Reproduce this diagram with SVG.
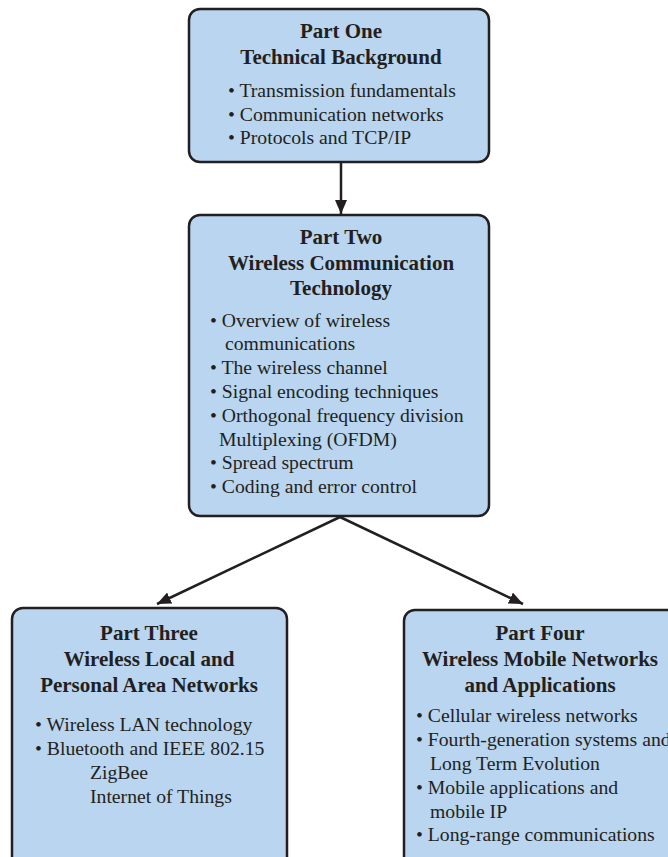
<svg xmlns="http://www.w3.org/2000/svg" width="668" height="857" viewBox="0 0 668 857">
  <defs>
    <marker id="arrow" viewBox="0 0 14 12" refX="14" refY="6" markerWidth="14" markerHeight="12" markerUnits="userSpaceOnUse" orient="auto">
      <path d="M0,0 L14,6 L0,12 Z" fill="#231f20"/>
    </marker>
  </defs>
  <style>
    .box { fill: #b9d5ef; stroke: #231f20; stroke-width: 2.5; }
    .title { font-family: "Liberation Serif", "Times New Roman", serif; font-weight: bold; font-size: 21px; fill: #231f20; text-anchor: middle; }
    .item { font-family: "Liberation Serif", "Times New Roman", serif; font-size: 19.7px; fill: #231f20; }
    .conn { stroke: #231f20; stroke-width: 2.5; fill: none; marker-end: url(#arrow); }
  </style>
  <rect width="668" height="857" fill="#ffffff"/>

  <g id="connectors">
    <line class="conn" x1="341" y1="162" x2="341" y2="214"/>
    <line class="conn" x1="340" y1="517" x2="157" y2="604"/>
    <line class="conn" x1="340" y1="517" x2="523" y2="604"/>
  </g>

  <g id="part-one">
    <rect class="box" x="189" y="9" width="300" height="153" rx="11"/>
    <text class="title" x="341" y="38">Part One</text>
    <text class="title" x="341" y="64">Technical Background</text>
    <text class="item" x="228" y="97">• Transmission fundamentals</text>
    <text class="item" x="228" y="121">• Communication networks</text>
    <text class="item" x="228" y="144">• Protocols and TCP/IP</text>
  </g>

  <g id="part-two">
    <rect class="box" x="189" y="215" width="300" height="301" rx="11"/>
    <text class="title" x="341" y="244">Part Two</text>
    <text class="title" x="341" y="270">Wireless Communication</text>
    <text class="title" x="341" y="295">Technology</text>
    <text class="item" x="210" y="327">• Overview of wireless</text>
    <text class="item" x="225" y="350">communications</text>
    <text class="item" x="210" y="374">• The wireless channel</text>
    <text class="item" x="210" y="398">• Signal encoding techniques</text>
    <text class="item" x="210" y="422">• Orthogonal frequency division</text>
    <text class="item" x="219" y="446">Multiplexing (OFDM)</text>
    <text class="item" x="210" y="469">• Spread spectrum</text>
    <text class="item" x="210" y="493">• Coding and error control</text>
  </g>

  <g id="part-three">
    <rect class="box" x="12" y="608" width="275" height="270" rx="11"/>
    <text class="title" x="149" y="640">Part Three</text>
    <text class="title" x="149" y="666">Wireless Local and</text>
    <text class="title" x="149" y="692">Personal Area Networks</text>
    <text class="item" x="35" y="731">• Wireless LAN technology</text>
    <text class="item" x="35" y="755">• Bluetooth and IEEE 802.15</text>
    <text class="item" x="90" y="779">ZigBee</text>
    <text class="item" x="90" y="803">Internet of Things</text>
  </g>

  <g id="part-four">
    <rect class="box" x="404" y="610" width="300" height="270" rx="11"/>
    <text class="title" x="540" y="640">Part Four</text>
    <text class="title" x="540" y="666">Wireless Mobile Networks</text>
    <text class="title" x="540" y="692">and Applications</text>
    <text class="item" x="416" y="722">• Cellular wireless networks</text>
    <text class="item" x="416" y="746">• Fourth-generation systems and</text>
    <text class="item" x="430" y="770">Long Term Evolution</text>
    <text class="item" x="416" y="794">• Mobile applications and</text>
    <text class="item" x="430" y="818">mobile IP</text>
    <text class="item" x="416" y="841">• Long-range communications</text>
  </g>
</svg>
